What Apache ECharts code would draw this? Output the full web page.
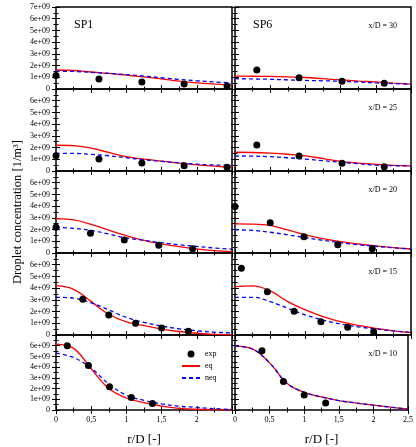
<!DOCTYPE html>
<html>
<head>
<meta charset="utf-8">
<script src="https://cdn.jsdelivr.net/npm/echarts@6/dist/echarts.min.js"></script>
<style>
html,body{margin:0;padding:0;background:#fff;}
#main{width:416px;height:447px;}
</style>
</head>
<body>
<div id="main"></div>
<script>
// x/D stations, top to bottom
var stations = [30, 25, 20, 15, 10];
// r/D positions for the model curves
var rCurve = [0, 0.25, 0.5, 0.75, 1, 1.25, 1.5, 1.75, 2, 2.25, 2.5];

// values in 1e+09 1/m3, one row per station
var sp1Eq = [
    [1.62, 1.58, 1.45, 1.33, 1.18, 1.03, 0.86, 0.68, 0.53, 0.42, 0.33],
    [2.20, 2.17, 1.95, 1.58, 1.22, 1.01, 0.84, 0.67, 0.53, 0.42, 0.30],
    [2.93, 2.82, 2.45, 1.95, 1.48, 1.07, 0.77, 0.54, 0.35, 0.20, 0.12],
    [4.21, 3.90, 2.85, 1.77, 1.12, 0.80, 0.51, 0.30, 0.15, 0.05, 0.02],
    [6.15, 5.75, 3.85, 2.00, 1.12, 0.68, 0.36, 0.16, 0.07, 0.03, 0.01]
];
var sp1Neq = [
    [1.52, 1.50, 1.42, 1.33, 1.22, 1.10, 0.96, 0.82, 0.70, 0.60, 0.52],
    [1.51, 1.50, 1.42, 1.30, 1.13, 0.96, 0.82, 0.70, 0.58, 0.51, 0.48],
    [2.19, 2.10, 1.93, 1.62, 1.28, 1.08, 0.88, 0.70, 0.56, 0.43, 0.33],
    [3.22, 3.15, 2.75, 2.14, 1.50, 1.08, 0.77, 0.53, 0.36, 0.24, 0.17],
    [5.30, 4.90, 3.90, 2.42, 1.38, 0.90, 0.57, 0.35, 0.24, 0.13, 0.05]
];
var sp6Eq = [
    [1.10, 1.09, 1.07, 1.03, 0.98, 0.88, 0.78, 0.68, 0.60, 0.50, 0.42],
    [1.60, 1.58, 1.52, 1.43, 1.30, 1.06, 0.82, 0.68, 0.57, 0.48, 0.43],
    [2.48, 2.47, 2.36, 1.97, 1.54, 1.22, 0.97, 0.77, 0.60, 0.46, 0.34],
    [4.13, 4.19, 3.76, 2.85, 2.14, 1.57, 1.14, 0.82, 0.57, 0.36, 0.20],
    [5.96, 5.70, 4.40, 2.50, 1.65, 1.22, 0.88, 0.65, 0.45, 0.26, 0.09]
];
var sp6Neq = [
    [0.88, 0.86, 0.83, 0.78, 0.73, 0.70, 0.66, 0.60, 0.52, 0.46, 0.42],
    [1.28, 1.27, 1.22, 1.13, 1.02, 0.88, 0.75, 0.62, 0.50, 0.45, 0.43],
    [1.97, 1.93, 1.77, 1.55, 1.31, 1.08, 0.88, 0.71, 0.57, 0.45, 0.34],
    [3.22, 3.22, 2.85, 2.28, 1.71, 1.28, 0.94, 0.70, 0.51, 0.35, 0.23],
    [5.96, 5.70, 4.40, 2.50, 1.65, 1.22, 0.88, 0.65, 0.45, 0.26, 0.09]
];

// measurements
var sp1ExpR = [
    [0, 0.61, 1.22, 1.82, 2.43],
    [0, 0.61, 1.22, 1.82, 2.43],
    [0, 0.49, 0.97, 1.46, 1.94],
    [0.38, 0.75, 1.13, 1.5, 1.88],
    [0.16, 0.46, 0.76, 1.07, 1.37]
];
var sp1ExpV = [
    [1.15, 0.85, 0.60, 0.42, 0.25],
    [1.31, 1.03, 0.68, 0.45, 0.33],
    [2.19, 1.68, 1.11, 0.66, 0.37],
    [3.05, 1.71, 1.00, 0.60, 0.31],
    [6.00, 4.16, 2.16, 1.17, 0.60]
];
var sp6ExpR = [
    [0.31, 0.91, 1.52, 2.12],
    [0.31, 0.91, 1.52, 2.12],
    [0, 0.5, 0.98, 1.46, 1.95],
    [0.09, 0.46, 0.84, 1.22, 1.6, 1.97],
    [0.39, 0.7, 1.0, 1.31]
];
var sp6ExpV = [
    [1.62, 0.97, 0.66, 0.49],
    [2.22, 1.28, 0.66, 0.37],
    [3.96, 2.59, 1.39, 0.71, 0.37],
    [5.70, 3.70, 2.02, 1.14, 0.66, 0.28],
    [5.53, 2.65, 1.39, 0.66]
];

var chart = echarts.init(document.getElementById('main'));
var font = 'Liberation Serif';
var colLeft = [56, 235];
var colW = 176;
var rowTop = 7;
var rowH = 82;

var grids = [], xAxes = [], yAxes = [], series = [], graphics = [];

function pairs(xs, ys) {
    var out = [];
    for (var i = 0; i < xs.length; i++) out.push([xs[i], ys[i]]);
    return out;
}

for (var row = 0; row < stations.length; row++) {
    for (var col = 0; col < 2; col++) {
        var g = grids.length;
        var bottomRow = row == stations.length - 1;
        var panelTop = rowTop + row * rowH;
        grids.push({
            left: colLeft[col], top: panelTop, width: colW, height: rowH,
            show: true, borderColor: '#000', borderWidth: 1.5, backgroundColor: 'transparent'
        });
        var tick = {show: true, inside: true, length: 4, lineStyle: {color: '#000', width: 1}};
        var minor = {show: true, splitNumber: 2, length: 2.5, lineStyle: {color: '#000', width: 1}};
        ['bottom', 'top'].forEach(function (pos) {
            xAxes.push({
                type: 'value', gridIndex: g, position: pos, min: 0, max: 2.5, interval: 0.5,
                axisLine: {show: false}, axisTick: tick, minorTick: minor,
                splitLine: {show: false},
                axisLabel: {
                    show: pos == 'bottom' && bottomRow,
                    fontFamily: font, fontSize: 8, color: '#000', margin: 6,
                    showMaxLabel: true,
                    formatter: (function (c) {
                        return function (v) {
                            if (c == 0 && v == 2.5) return '';
                            return String(v).replace('.', ',');
                        };
                    })(col)
                },
                name: (pos == 'bottom' && bottomRow) ? 'r/D [-]' : '',
                nameLocation: 'middle', nameGap: 23,
                nameTextStyle: {fontFamily: font, fontSize: 13, color: '#000'}
            });
        });
        ['left', 'right'].forEach(function (pos) {
            var isTitle = pos == 'left' && col == 0 && row == 2;
            yAxes.push({
                type: 'value', gridIndex: g, position: pos, min: 0, max: 7, interval: 1,
                axisLine: {show: false}, axisTick: tick, minorTick: minor,
                splitLine: {show: false},
                axisLabel: {
                    show: pos == 'left' && col == 0,
                    fontFamily: font, fontSize: 8, color: '#000', margin: 6,
                    formatter: (function (r) {
                        return function (v) {
                            if (v == 0) return '0';
                            if (v == 7 && r > 0) return '';
                            return v + 'e+09';
                        };
                    })(row)
                },
                name: isTitle ? 'Droplet concentration [1/m³]' : '',
                nameLocation: 'middle', nameGap: 32,
                nameTextStyle: {fontFamily: font, fontSize: 12.5, color: '#000'}
            });
        });

        var eq = col == 0 ? sp1Eq[row] : sp6Eq[row];
        var neq = col == 0 ? sp1Neq[row] : sp6Neq[row];
        var er = col == 0 ? sp1ExpR[row] : sp6ExpR[row];
        var ev = col == 0 ? sp1ExpV[row] : sp6ExpV[row];
        series.push({
            name: 'eq', type: 'line', xAxisIndex: 2 * g, yAxisIndex: 2 * g,
            data: pairs(rCurve, eq), smooth: 0.4, symbol: 'none', silent: true,
            lineStyle: {color: '#ff0000', width: 1.3}, itemStyle: {color: '#ff0000'}
        });
        series.push({
            name: 'neq', type: 'line', xAxisIndex: 2 * g, yAxisIndex: 2 * g,
            data: pairs(rCurve, neq), smooth: 0.4, symbol: 'none', silent: true,
            lineStyle: {color: '#0000ff', width: 1.3, type: [4, 3]}, itemStyle: {color: '#0000ff'}
        });
        series.push({
            name: 'exp', type: 'scatter', xAxisIndex: 2 * g, yAxisIndex: 2 * g,
            data: pairs(er, ev), symbolSize: 7, silent: true,
            itemStyle: {color: '#000', opacity: 1}, z: 5
        });

        if (col == 1) {
            graphics.push({
                type: 'text', right: 19, top: panelTop + 15,
                style: {text: 'x/D = ' + stations[row], font: '8px "' + font + '"', fill: '#000'}
            });
        }
        if (row == 0) {
            graphics.push({
                type: 'text', left: colLeft[col] + 18, top: panelTop + 12,
                style: {text: col == 0 ? 'SP1' : 'SP6', font: '12px "' + font + '"', fill: '#000'}
            });
        }
    }
}

var option = {
    backgroundColor: '#fff',
    animation: false,
    grid: grids,
    xAxis: xAxes,
    yAxis: yAxes,
    series: series,
    graphic: graphics,
    legend: {
        data: [
            {name: 'exp'},
            {name: 'eq', itemStyle: {opacity: 0}},
            {name: 'neq', itemStyle: {opacity: 0}}
        ],
        orient: 'vertical', left: 176, top: 345,
        itemWidth: 18, itemHeight: 7, itemGap: 4,
        textStyle: {fontFamily: font, fontSize: 8, color: '#000'},
        selectedMode: false
    }
};
chart.setOption(option);
</script>
</body>
</html>
